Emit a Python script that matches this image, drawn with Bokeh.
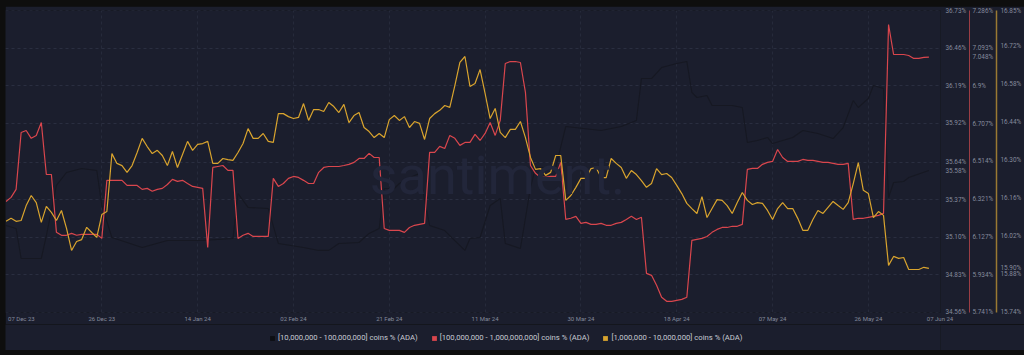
import pandas as pd
from bokeh.plotting import figure
from bokeh.models import (Range1d, LinearAxis, FixedTicker, CustomJSTickFormatter,
                          Legend, LegendItem, Label, DatetimeTickFormatter, ColumnDataSource)
from bokeh.layouts import column
from bokeh.embed import file_html
from bokeh.resources import INLINE

# ---------------- data ----------------
start_date = "2023-12-07"

series_names = [
    "[10,000,000 - 100,000,000] coins % (ADA)",
    "[100,000,000 - 1,000,000,000] coins % (ADA)",
    "[1,000,000 - 10,000,000] coins % (ADA)",
]

# daily values, [100M - 1B] holders (red, middle axis)
red_values = [
    6.309, 6.330, 6.371, 6.662, 6.672, 6.632, 6.647, 6.713, 6.447, 6.447,
    6.151, 6.136, 6.136, 6.146, 6.136, 6.141, 6.141, 6.141, 6.141, 6.120,
    6.417, 6.417, 6.417, 6.417, 6.391, 6.391, 6.391, 6.371, 6.376, 6.361,
    6.371, 6.376, 6.396, 6.422, 6.412, 6.417, 6.401, 6.386, 6.381, 6.376,
    6.074, 6.483, 6.488, 6.493, 6.468, 6.468, 6.120, 6.136, 6.146, 6.130,
    6.130, 6.130, 6.130, 6.427, 6.386, 6.401, 6.427, 6.437, 6.432, 6.417,
    6.401, 6.401, 6.458, 6.483, 6.488, 6.488, 6.488, 6.493, 6.499, 6.509,
    6.529, 6.529, 6.555, 6.534, 6.534, 6.171, 6.161, 6.161, 6.161, 6.151,
    6.176, 6.187, 6.192, 6.197, 6.560, 6.560, 6.591, 6.580, 6.647, 6.632,
    6.596, 6.611, 6.611, 6.652, 6.621, 6.657, 6.713, 6.647, 6.724, 7.015,
    7.025, 7.025, 7.020, 6.867, 6.493, 6.453, 6.432, 6.432, 6.437, 6.437,
    6.509, 6.217, 6.223, 6.233, 6.197, 6.202, 6.192, 6.192, 6.197, 6.187,
    6.187, 6.197, 6.202, 6.217, 6.233, 6.217, 6.228, 5.941, 5.931, 5.880,
    5.819, 5.798, 5.798, 5.803, 5.808, 5.819, 6.110, 6.115, 6.120, 6.130,
    6.151, 6.166, 6.176, 6.176, 6.182, 6.182, 6.192, 6.473, 6.478, 6.478,
    6.499, 6.509, 6.514, 6.575, 6.534, 6.514, 6.514, 6.514, 6.524, 6.519,
    6.519, 6.514, 6.509, 6.509, 6.504, 6.499, 6.499, 6.504, 6.217, 6.223,
    6.223, 6.228, 6.233, 6.238, 6.248, 7.214, 7.061, 7.061, 7.061, 7.056,
    7.041, 7.041, 7.046, 7.048,
]

# daily values, [1M - 10M] holders (yellow, outer axis)
yellow_values = [
    16.075, 16.086, 16.075, 16.078, 16.133, 16.170, 16.144, 16.071, 16.130, 16.108,
    16.078, 16.115, 16.049, 15.968, 16.001, 16.008, 16.053, 16.034, 16.016, 16.100,
    16.111, 16.324, 16.288, 16.280, 16.255, 16.280, 16.328, 16.380, 16.350, 16.324,
    16.336, 16.317, 16.280, 16.332, 16.273, 16.321, 16.369, 16.336, 16.358, 16.361,
    16.369, 16.288, 16.288, 16.306, 16.302, 16.299, 16.328, 16.361, 16.416, 16.380,
    16.380, 16.398, 16.369, 16.365, 16.471, 16.471, 16.460, 16.453, 16.457, 16.508,
    16.446, 16.486, 16.486, 16.479, 16.512, 16.497, 16.475, 16.505, 16.438, 16.464,
    16.475, 16.420, 16.405, 16.383, 16.398, 16.383, 16.449, 16.464, 16.446, 16.460,
    16.420, 16.442, 16.435, 16.376, 16.453, 16.471, 16.483, 16.501, 16.494, 16.574,
    16.659, 16.681, 16.571, 16.582, 16.633, 16.545, 16.453, 16.490, 16.402, 16.383,
    16.413, 16.413, 16.442, 16.383, 16.310, 16.266, 16.269, 16.244, 16.255, 16.317,
    16.317, 16.152, 16.170, 16.200, 16.233, 16.233, 16.269, 16.273, 16.236, 16.236,
    16.306, 16.288, 16.273, 16.233, 16.262, 16.247, 16.225, 16.200, 16.214, 16.269,
    16.247, 16.251, 16.236, 16.207, 16.177, 16.141, 16.122, 16.104, 16.166, 16.089,
    16.122, 16.155, 16.152, 16.133, 16.104, 16.144, 16.181, 16.152, 16.137, 16.144,
    16.141, 16.115, 16.082, 16.122, 16.144, 16.122, 16.122, 16.086, 16.042, 16.042,
    16.082, 16.115, 16.104, 16.126, 16.148, 16.133, 16.119, 16.144, 16.214, 16.291,
    16.189, 16.177, 16.089, 16.111, 16.097, 15.913, 15.946, 15.939, 15.942, 15.898,
    15.898, 15.898, 15.906, 15.902,
]

# [10M - 100M] holders (near-black line, inner axis): day offset / value
black_days = [0, 2, 3, 7, 8, 10, 12, 15, 18, 19, 21, 27, 32, 39, 45, 46, 48, 52, 54, 59,
              62, 64, 66, 70, 72, 74, 75, 77, 78, 81, 82, 84, 87, 89, 91, 92, 94, 96, 98, 99,
              102, 104, 105, 109, 111, 118, 122, 125, 126, 128, 130, 133, 135, 136, 137, 139,
              140, 144, 146, 147, 149, 151, 152, 154, 156, 158, 161, 164, 166, 168, 169, 171,
              172, 174, 175, 176, 178, 179, 183]
black_values = [35.185, 35.164, 34.948, 34.948, 35.113, 35.473, 35.566, 35.595, 35.580, 35.329,
                35.099, 35.027, 35.077, 35.077, 35.092, 35.415, 35.315, 35.307, 35.056, 35.027,
                35.006, 35.006, 35.056, 35.063, 35.128, 35.164, 35.451, 35.451, 35.487, 35.544,
                35.559, 35.185, 35.149, 35.077, 35.006, 35.092, 35.099, 35.329, 35.379, 35.056,
                35.020, 35.458, 35.602, 35.602, 35.897, 35.868, 35.897, 35.940, 36.241, 36.241,
                36.320, 36.349, 36.364, 36.141, 36.105, 36.119, 36.047, 36.047, 36.033, 35.782,
                35.796, 35.818, 35.774, 35.796, 35.818, 35.868, 35.846, 35.810, 35.889, 36.083,
                36.033, 36.098, 36.191, 36.170, 35.386, 35.494, 35.501, 35.530, 35.580]

black_ticks = [34.56, 34.83, 35.10, 35.37, 35.64, 35.92, 36.19, 36.46, 36.73]
red_ticks = [5.741, 5.934, 6.127, 6.321, 6.514, 6.707, 6.9, 7.093, 7.286]
yellow_ticks = [15.74, 15.88, 16.02, 16.16, 16.30, 16.44, 16.58, 16.72, 16.85]
x_tick_dates = ["2023-12-26", "2024-01-14", "2024-02-02", "2024-02-21", "2024-03-11",
                "2024-03-30", "2024-04-18", "2024-05-07", "2024-05-26"]
x_end_labels = ["07 Dec 23", "07 Jun 24"]

# ---------------- style ----------------
BG = "#1b1e2d"
OUTER = "#0e0e0e"
RED = "#d9464d"
YEL = "#d9a42e"
BLK = "#161822"
TICK_C = "#858a9c"
FONT = "Roboto"
DAY = 86400000
NAN = float("nan")

t0 = int(pd.Timestamp(start_date).value // 10**6)
dates = pd.date_range(start_date, periods=len(red_values), freq="D")
black_dates = pd.Timestamp(start_date) + pd.to_timedelta(black_days, unit="D")

p = figure(width=1019, height=318, x_axis_type="datetime",
           x_range=Range1d(t0 - 0.1 * DAY, t0 + 185.3 * DAY),
           y_range=Range1d(34.5599, 36.7301),
           y_axis_location="right",
           output_backend="svg", toolbar_location=None,
           min_border_left=0, min_border_right=84, min_border_top=4, min_border_bottom=12,
           background_fill_color=BG, border_fill_color=BG, outline_line_color=None)
p.extra_y_ranges = {"red": Range1d(5.7409, 7.2861), "yellow": Range1d(15.7399, 16.8501)}

# grids
p.ygrid.grid_line_color = "#2a2e40"
p.ygrid.grid_line_dash = "3 3"
p.ygrid.ticker = FixedTicker(ticks=black_ticks)
p.xgrid.grid_line_color = "#262a3b"
p.xgrid.grid_line_dash = "3 3"
p.xgrid.ticker = FixedTicker(ticks=[int(pd.Timestamp(d).value // 10**6) for d in x_tick_dates])

# x axis
first_tick = t0 + int(3.05 * DAY)
last_tick = t0 + int(185.2 * DAY)
xt = [first_tick] + [int(pd.Timestamp(d).value // 10**6) for d in x_tick_dates] + [last_tick]
xa = p.xaxis[0]
xa.ticker = FixedTicker(ticks=xt)
xa.formatter = DatetimeTickFormatter(days="%d %b %y", months="%d %b %y", years="%d %b %y")
xa.major_label_overrides = {first_tick: x_end_labels[0], last_tick: x_end_labels[1]}
xa.axis_line_color = None
xa.major_tick_line_color = None
xa.minor_tick_line_color = None
xa.major_tick_out = 0
xa.major_tick_in = 0
xa.major_label_standoff = 2
xa.major_label_text_font = FONT
xa.major_label_text_font_size = "6px"
xa.major_label_text_color = TICK_C


def style_axis(ax, standoff, line_color):
    ax.major_tick_line_color = None
    ax.minor_tick_line_color = None
    ax.major_tick_out = 0
    ax.major_tick_in = 0
    ax.minor_tick_out = 0
    ax.major_label_standoff = standoff
    ax.major_label_text_font = FONT
    ax.major_label_text_font_size = "6.4px"
    ax.major_label_text_color = TICK_C
    ax.axis_line_color = line_color


# each axis also carries the series' last value as an extra labelled tick
ax1 = p.yaxis[0]
ax1.ticker = FixedTicker(ticks=black_ticks + [black_values[-1]])
ax1.formatter = CustomJSTickFormatter(code="return tick.toFixed(2) + '%';")
style_axis(ax1, 5, None)

ax2 = LinearAxis(y_range_name="red", ticker=FixedTicker(ticks=red_ticks + [red_values[-1]]),
                 formatter=CustomJSTickFormatter(code="return parseFloat(tick.toFixed(3)) + '%';"))
style_axis(ax2, 3, "#9b3d44")
ax2.axis_line_width = 1
p.add_layout(ax2, "right")

ax3 = LinearAxis(y_range_name="yellow", ticker=FixedTicker(ticks=yellow_ticks + [yellow_values[-1]]),
                 formatter=CustomJSTickFormatter(code="return tick.toFixed(2) + '%';"))
style_axis(ax3, 4, "#9a7a33")
ax3.axis_line_width = 1.5
p.add_layout(ax3, "right")

# watermark
p.add_layout(Label(x=492, y=137, x_units="screen", y_units="screen", text="santiment.",
                   text_align="center", text_baseline="alphabetic",
                   text_font=FONT, text_font_size="54px", text_color="#22263a"))

# lines
p.line(black_dates, black_values, line_color=BLK, line_width=1.1)
p.line(dates, red_values, line_color=RED, line_width=1.2, y_range_name="red")
p.line(dates, yellow_values, line_color=YEL, line_width=1.2, y_range_name="yellow")

# ---------------- legend strip ----------------
lg = figure(width=1019, height=26, x_range=Range1d(0, 1), y_range=Range1d(0, 1),
            x_axis_location=None, y_axis_location=None,
            output_backend="svg", toolbar_location=None,
            min_border_left=0, min_border_right=0, min_border_top=0, min_border_bottom=0,
            background_fill_color=BG, border_fill_color=BG, outline_line_color=None)
lg.xgrid.visible = False
lg.ygrid.visible = False
swatch = dict(left=[NAN], right=[NAN], top=[NAN], bottom=[NAN])
q0 = lg.quad(source=ColumnDataSource(swatch), left="left", right="right", top="top", bottom="bottom",
             fill_color="#0d0e13", line_color=None)
q1 = lg.quad(source=ColumnDataSource(swatch), left="left", right="right", top="top", bottom="bottom",
             fill_color=RED, line_color=None)
q2 = lg.quad(source=ColumnDataSource(swatch), left="left", right="right", top="top", bottom="bottom",
             fill_color=YEL, line_color=None)
legend = Legend(items=[LegendItem(label=series_names[0], renderers=[q0]),
                       LegendItem(label=series_names[1], renderers=[q1]),
                       LegendItem(label=series_names[2], renderers=[q2])],
                orientation="horizontal", location=(264, 8),
                label_text_font=FONT, label_text_font_size="7.7px", label_text_color="#c7cad3",
                glyph_width=6, glyph_height=6, label_height=9, label_standoff=3, spacing=13,
                padding=0, margin=0, background_fill_alpha=0, border_line_color=None)
lg.add_layout(legend)

layout = column(p, lg, spacing=0,
                styles={"background-color": OUTER, "padding": "6px 0px 5px 5px"})

open("out.html", "w").write(file_html(layout, INLINE))
